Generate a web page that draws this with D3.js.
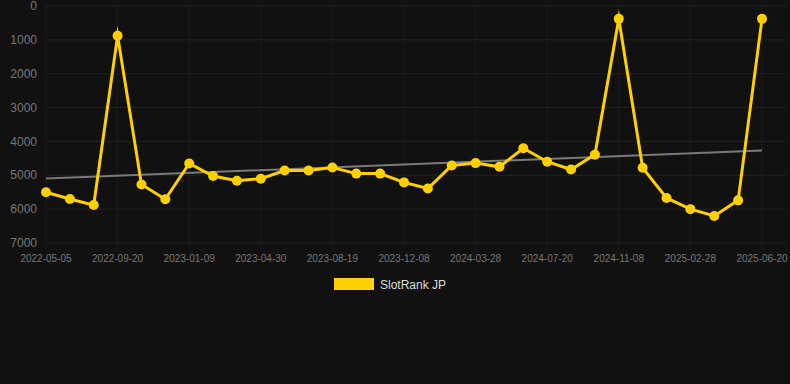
<!DOCTYPE html>
<html><head><meta charset="utf-8">
<script src="https://cdn.jsdelivr.net/npm/d3@7"></script>
<style>html,body{margin:0;padding:0;background:#111111;}svg{display:block;}</style>
</head><body>
<svg id="c" width="790" height="384"></svg>
<script>
const categories = ["2022-05-05","2022-06-20","2022-08-05","2022-09-20","2022-10-27","2022-12-03",
"2023-01-09","2023-02-15","2023-03-24","2023-04-30","2023-06-06","2023-07-13",
"2023-08-19","2023-09-25","2023-11-01","2023-12-08","2024-01-14","2024-02-20",
"2024-03-28","2024-05-04","2024-06-12","2024-07-20","2024-08-26","2024-10-02",
"2024-11-08","2024-12-15","2025-01-21","2025-02-28","2025-04-06","2025-05-13","2025-06-20"];
const values = [5500,5700,5880,880,5270,5710,4650,5020,5160,5100,4860,4860,4770,4950,4950,5210,5390,4710,4640,4750,4200,4600,4830,4390,380,4780,5670,6000,6200,5740,380];
const yTicks = [0,1000,2000,3000,4000,5000,6000,7000];
const xTickLabels = ["2022-05-05","2022-09-20","2023-01-09","2023-04-30","2023-08-19","2023-12-08","2024-03-28","2024-07-20","2024-11-08","2025-02-28","2025-06-20"];
const seriesName = "SlotRank JP";

(function () {
const svg = d3.select("#c");
const pLeft = 46, pRight = 762, gridRight = 786, pTop = 6, pBottom = 243;
const x = d3.scalePoint().domain(categories).range([pLeft, pRight]);
const y = d3.scaleLinear().domain([0, 7000]).range([pTop, pBottom]);

// grid
const g = svg.append("g");
g.selectAll("line.h").data(yTicks).join("line")
  .attr("x1", pLeft).attr("x2", gridRight)
  .attr("y1", d => y(d)).attr("y2", d => y(d))
  .attr("stroke", "#202020").attr("stroke-width", 1);
g.selectAll("line.v").data(xTickLabels).join("line")
  .attr("x1", d => x(d)).attr("x2", d => x(d))
  .attr("y1", pTop).attr("y2", pBottom + 6)
  .attr("stroke", "#1d1d1d").attr("stroke-width", 1);

// y labels
svg.append("g").selectAll("text").data(yTicks).join("text")
  .attr("x", 37).attr("y", d => y(d)).attr("dy", "0.35em")
  .attr("text-anchor", "end").attr("fill", "#777777")
  .attr("font-family", "Liberation Sans, Arial, sans-serif").attr("font-size", 12)
  .text(d => d);

// x labels
svg.append("g").selectAll("text").data(xTickLabels).join("text")
  .attr("x", d => x(d)).attr("y", 262)
  .attr("text-anchor", "middle").attr("fill", "#777777")
  .attr("font-family", "Liberation Sans, Arial, sans-serif").attr("font-size", 10)
  .text(d => d);

// trend (least squares)
const n = values.length;
const idx = d3.range(n);
const mx = d3.mean(idx), my = d3.mean(values);
const slope = d3.sum(idx, i => (i - mx) * (values[i] - my)) / d3.sum(idx, i => (i - mx) ** 2);
const icpt = my - slope * mx;
svg.append("line")
  .attr("x1", x(categories[0])).attr("y1", y(icpt))
  .attr("x2", x(categories[n - 1])).attr("y2", y(icpt + slope * (n - 1)))
  .attr("stroke", "#7a7a7a").attr("stroke-width", 2);

// series line
const col = "#FFD000";
svg.append("path").datum(values)
  .attr("d", d3.line().x((d, i) => x(categories[i])).y(d => y(d)))
  .attr("fill", "none").attr("stroke", col).attr("stroke-width", 3)
  .attr("stroke-linejoin", "miter").attr("stroke-miterlimit", 10);
svg.append("g").selectAll("circle").data(values).join("circle")
  .attr("cx", (d, i) => x(categories[i])).attr("cy", d => y(d))
  .attr("r", 5).attr("fill", col);

// legend
svg.append("rect").attr("x", 334).attr("y", 278).attr("width", 40).attr("height", 12).attr("fill", col);
svg.append("text").attr("x", 380).attr("y", 288.5)
  .attr("fill", "#dddddd").attr("font-family", "Liberation Sans, Arial, sans-serif").attr("font-size", 12)
  .text(seriesName);
})();
</script>
</body></html>
